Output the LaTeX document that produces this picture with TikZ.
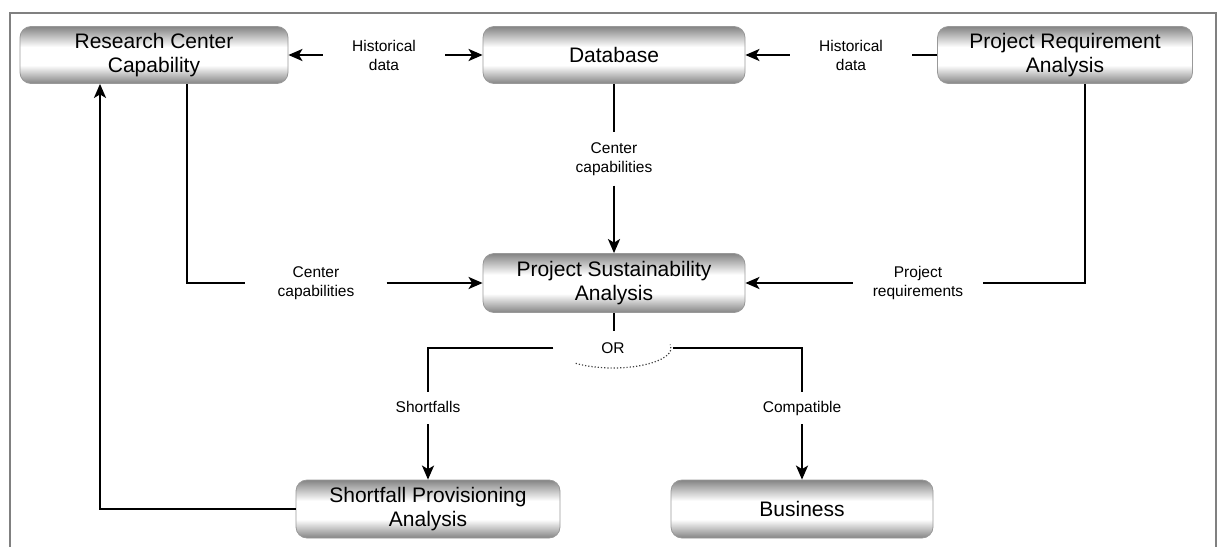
\documentclass[tikz,border=0pt]{standalone}
\usepackage{fontspec}
\setmainfont{Liberation Sans}
\usetikzlibrary{arrows.meta}
\pgfdeclareverticalshading{boxshade}{100bp}{color(0bp)=(black!48); color(25bp)=(black!48); color(41bp)=(white); color(57bp)=(white); color(75bp)=(black!48); color(100bp)=(black!48)}

\begin{document}
\begin{tikzpicture}[x=1pt,y=-1pt]
\tikzstyle{every node}+=[inner sep=0pt]
\tikzstyle{box}=[draw=black!40, line width=0.8pt, rounded corners=11pt, shading=boxshade, minimum width=262pt, minimum height=57pt, align=center, font=\fontsize{21}{24}\selectfont]
\tikzstyle{lbl}=[align=center, font=\fontsize{15.5}{19}\selectfont]
\tikzstyle{wire}=[black, line width=2.2pt]
\tikzstyle{flow}=[wire, -{Stealth[length=14pt,width=12pt,inset=3.5pt]}]

\useasboundingbox (0,0) rectangle (1222,546);
\begin{scope}
\clip (0,0) rectangle (1222,546);
\draw [black!50, line width=2.6pt] (10,560) -- (10,13) -- (1216,13) -- (1216,560);
\end{scope}

\node [box, minimum width=268pt] (rcc) at (154,55) {Research Center\\Capability};
\node [box] (db) at (614,55) {Database};
\node [box, minimum width=255pt] (pra) at (1065,55) {Project Requirement\\Analysis};
\node [box, minimum height=59pt] (psa) at (614,283) {Project Sustainability\\Analysis};
\node [box, minimum width=264pt, minimum height=58pt] (spa) at (428,509) {Shortfall Provisioning\\Analysis};
\node [box, minimum height=58pt] (bus) at (802,509) {Business};

\node [lbl, inner xsep=29pt] (hl) at (384,55) {Historical\\data};
\node [lbl, inner xsep=29pt] (hr) at (851,55) {Historical\\data};
\node [lbl, inner ysep=10pt] (dcap) at (614,159) {Center\\capabilities};
\node [lbl, inner xsep=32pt] (lcap) at (316,283) {Center\\capabilities};
\node [lbl, inner xsep=20pt] (preq) at (918,283) {Project\\requirements};
\node [lbl, minimum width=119pt, minimum height=20pt] (or) at (613,348) {OR};
\coordinate (orin) at (614,331);
\node [lbl, text height=11pt, text depth=3pt, inner ysep=9pt] (sf) at (428,408) {Shortfalls};
\node [lbl, text height=11pt, text depth=3pt, inner ysep=9pt] (cp) at (802,408) {Compatible};

\draw [flow] (hl.west) -- (rcc.east);
\draw [flow] (hl.east) -- (db.west);
\draw [wire] (pra.west) -- (hr.east);
\draw [flow] (hr.west) -- (db.east);
\draw [wire] (db.south) -- (dcap.north);
\draw [flow] (dcap.south) -- (psa.north);
\draw [wire] ([xshift=33pt]rcc.south) |- (lcap.west);
\draw [flow] (lcap.east) -- (psa.west);
\draw [wire] ([xshift=20pt]pra.south) |- (preq.east);
\draw [flow] (preq.west) -- (psa.east);
\draw [wire] (psa.south) -- (orin);
\draw [black!75, line width=1.2pt, dotted] (or.center) ++(130:58 and 20) arc [start angle=130, end angle=-10, x radius=58, y radius=20];
\draw [wire] (or.west) -| (sf.north);
\draw [flow] (sf.south) -- (spa.north);
\draw [wire] (or.east) -| (cp.north);
\draw [flow] (cp.south) -- (bus.north);
\draw [flow] (spa.west) -| ([xshift=-54pt]rcc.south);
\end{tikzpicture}
\end{document}
